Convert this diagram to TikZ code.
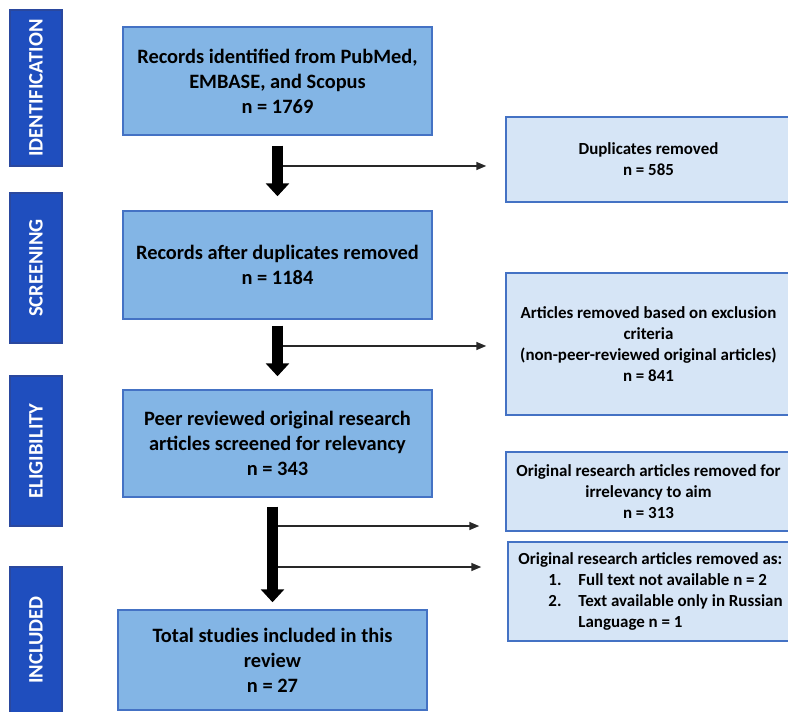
\documentclass[tikz,border=0pt]{standalone}
\usepackage{fontspec}
\setmainfont{Carlito}
\usetikzlibrary{arrows.meta}

\definecolor{phaseblue}{RGB}{31,78,190}
\definecolor{phaseedge}{RGB}{42,72,158}
\definecolor{mainfill}{RGB}{131,181,229}
\definecolor{sidefill}{RGB}{214,229,246}
\definecolor{boxedge}{RGB}{68,114,196}

\tikzset{every picture/.style={line width=0.75pt}}
\tikzset{
  phasebar/.style={draw=phaseedge, line width=1.1pt, fill=phaseblue, text=white, rotate=90,
    minimum height=39pt, inner sep=0pt, font=\bfseries\fontsize{15.4}{18}\selectfont},
  mainbox/.style={draw=boxedge, line width=1.1pt, fill=mainfill, minimum width=231.75pt,
    inner sep=0pt, align=center, font=\bfseries\fontsize{15.3}{18.75}\selectfont},
  sidebox/.style={draw=boxedge, line width=1.1pt, fill=sidefill, minimum width=213.75pt,
    inner sep=0pt, align=center, font=\bfseries\fontsize{12.7}{15.75}\selectfont},
  flowarrow/.style={line width=8.25pt, -{Triangle[length=9.75pt,width=17.25pt]}},
  sidearrow/.style={line width=1.1pt, draw={rgb,255:red,40;green,40;blue,40}, -{Triangle[length=7.5pt,width=6pt]}}
}

\begin{document}
\begin{tikzpicture}[x=0.75pt,y=0.75pt,yscale=-1,xscale=1]
    \useasboundingbox (0,0) rectangle (788,712);
    \clip (0,0) rectangle (788,712);

    %Phase bars
    \node [phasebar, minimum width=117pt] (identification) at (36,88) {IDENTIFICATION};
    \node [phasebar, minimum width=112.5pt] (screening) at (36,268) {SCREENING};
    \node [phasebar, minimum width=112.5pt] (eligibility) at (36,451) {ELIGIBILITY};
    \node [phasebar, minimum width=109.5pt] (included) at (36,640) {INCLUDED};

    %Main boxes
    \node [mainbox, minimum height=81pt] (records) at (277.5,81) {Records identified from PubMed,\\EMBASE, and Scopus\\n = 1769};
    \node [mainbox, minimum height=81pt] (afterdup) at (277.5,265) {Records after duplicates removed\\n = 1184};
    \node [mainbox, minimum height=80.25pt] (peer) at (277.5,443.5) {Peer reviewed original research\\articles screened for relevancy\\n = 343};
    \node [mainbox, minimum height=75pt] (total) at (272.5,660) {Total studies included in this\\review\\n = 27};

    %Side boxes
    \node [sidebox, minimum height=63.75pt] (duplicates) at (648.5,159.5) {Duplicates removed\\n = 585};
    \node [sidebox, minimum height=106.5pt] (exclusion) at (648.5,344) {Articles removed based on exclusion\\criteria\\(non-peer-reviewed original articles)\\n = 841};
    \node [sidebox, minimum height=59.25pt] (irrelevant) at (648.5,491.5) {Original research articles removed for\\irrelevancy to aim\\n = 313};
    \node [sidebox, minimum height=74.25pt, align=left] (fulltext) at (650.5,591.5) {Original research articles removed as:\\
      \hspace*{22.5pt}\makebox[22.5pt][l]{1.}Full text not available n = 2\\
      \hspace*{22.5pt}\makebox[22.5pt][l]{2.}Text available only in Russian\\
      \hspace*{45pt}Language n = 1};

    %Branch points
    \coordinate (brdup) at (277.5,166);
    \coordinate (brexcl) at (277.5,346);
    \coordinate (brirrel) at (272.5,526);
    \coordinate (brfull) at (272.5,567);

    %Side arrows
    \draw [sidearrow, shorten >=14.25pt] (brdup) -- (brdup -| duplicates.west);
    \draw [sidearrow, shorten >=14.25pt] (brexcl) -- (brexcl -| exclusion.west);
    \draw [sidearrow, shorten >=19.5pt] (brirrel) -- (brirrel -| irrelevant.west);
    \draw [sidearrow, shorten >=19.5pt] (brfull) -- (brfull -| fulltext.west);

    %Flow arrows
    \draw [flowarrow, shorten <=7.5pt, shorten >=10.5pt] (records.south) -- (afterdup.north);
    \draw [flowarrow, shorten <=4.5pt, shorten >=9.75pt] (afterdup.south) -- (peer.north);
    \draw [flowarrow, shorten <=6.75pt, shorten >=5.25pt] (total.north |- peer.south) -- (total.north);
\end{tikzpicture}
\end{document}
